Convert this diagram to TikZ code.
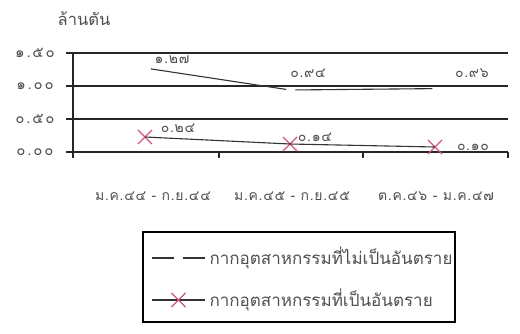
\documentclass[tikz,border=0pt]{standalone}
\usepackage{fontspec}
\newfontfamily\thaifont[Script=Thai]{Loma}
\newfontfamily\thaiwide[Script=Thai,LetterSpace=12]{Loma}
\newfontfamily\thaimid[Script=Thai,LetterSpace=5]{Loma}
\usetikzlibrary{positioning,calc,shapes.misc}
\definecolor{markred}{HTML}{D2557A}
\definecolor{inkgray}{HTML}{505050}
\tikzset{
    gridline/.style={line width=1.4pt, black!85},
    series/.style={line width=1.1pt, black!80},
    nonhaz/.style={series, dash pattern=on 137pt off 9pt, dash phase=140pt},
    crossmark/.style={cross out, draw=markred, line width=1.1pt, minimum size=13pt, inner sep=0pt},
    ticklabel/.style={font=\thaiwide\fontsize{15}{17}\selectfont, text=inkgray},
    vallabel/.style={font=\thaimid\fontsize{14}{16}\selectfont, text=inkgray},
    catlabel/.style={font=\thaimid\fontsize{14}{16}\selectfont, text=inkgray},
    legtext/.style={font=\thaifont\fontsize{17}{19}\selectfont, text=inkgray, anchor=west}
}

\begin{document}
\begin{tikzpicture}[x=1pt, y={(0pt,-1pt)}]
    \useasboundingbox (0,0) rectangle (520,333);
    \node[font=\thaifont\fontsize{16.5}{18}\selectfont, text=inkgray] (unit) at (84,19) {ล้านตัน};

    \node[ticklabel] (t150) at (35,53) {๑.๕๐};
    \node[ticklabel] (t100) at (35,86) {๑.๐๐};
    \node[ticklabel] (t050) at (35,119) {๐.๕๐};
    \node[ticklabel] (t000) at (35,152) {๐.๐๐};

    \coordinate (g150) at (66,53);  \coordinate (e150) at (508,53);
    \coordinate (g100) at (66,86);  \coordinate (e100) at (508,86);
    \coordinate (g050) at (66,119); \coordinate (e050) at (508,119);
    \coordinate (g000) at (66,152); \coordinate (e000) at (508,152);
    \draw[gridline] (g150) -- (e150);
    \draw[gridline] (g100) -- (e100);
    \draw[gridline] (g050) -- (e050);
    \draw[gridline] (g000) -- (e000);

    \coordinate (top) at (73,53);
    \coordinate (bot) at (73,158);
    \draw[gridline] (top) -- (bot);
    \foreach \x in {219,363,508} {
        \draw[gridline] (\x,152) -- (\x,158);
    }

    \coordinate (n1) at (145,68);
    \coordinate (n2) at (290,90);
    \coordinate (n3) at (435,88.6);
    \draw[nonhaz] (n1) -- (n2) -- (n3);

    \node[crossmark] (h1) at (145,137) {};
    \node[crossmark] (h2) at (290,144) {};
    \node[crossmark] (h3) at (435,147) {};
    \draw[series] (h1.center) -- (h2.center) -- (h3.center);

    \node[vallabel] (v1) at (172,60) {๑.๒๗};
    \node[vallabel] (v2) at (308,73) {๐.๙๔};
    \node[vallabel] (v3) at (472,73) {๐.๙๖};
    \node[vallabel] (w1) at (178,128) {๐.๒๔};
    \node[vallabel] (w2) at (315,137) {๐.๑๔};
    \node[vallabel] (w3) at (473,147) {๐.๑๐};

    \node[catlabel] (c1) at (153,196) {ม.ค.๔๔ - ก.ย.๔๔};
    \node[catlabel] (c2) at (292,196) {ม.ค.๔๕ - ก.ย.๔๕};
    \node[catlabel] (c3) at (436,196) {ต.ค.๔๖ - ม.ค.๔๗};

    \node[draw, line width=1.3pt, minimum width=312pt, minimum height=90pt] (legend) at (299,277) {};
    \coordinate (la) at (152,258);
    \coordinate (lb) at (205,258);
    \draw[series, dash pattern=on 22pt off 9pt] (la) -- (lb);
    \node[legtext, right=1pt of lb] (nonhaztext) {กากอุตสาหกรรมที่ไม่เป็นอันตราย};
    \coordinate (ma) at (152,300);
    \coordinate (mb) at (205,300);
    \draw[series] (ma) -- (mb);
    \node[crossmark] (legx) at ($(ma)!0.5!(mb)$) {};
    \node[legtext, right=1pt of mb] (haztext) {กากอุตสาหกรรมที่เป็นอันตราย};
\end{tikzpicture}
\end{document}
